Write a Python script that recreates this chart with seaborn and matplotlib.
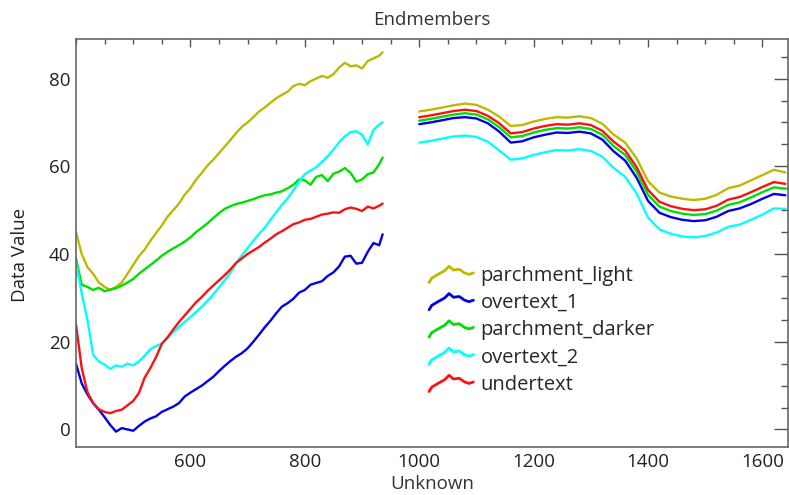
import numpy as np
import pandas as pd
import seaborn as sns
import matplotlib
matplotlib.use("Agg")
import matplotlib.pyplot as plt
from matplotlib.lines import Line2D
from matplotlib.legend_handler import HandlerBase
from matplotlib.ticker import MultipleLocator

# Endmember spectra
names = ['parchment_light', 'overtext_1', 'parchment_darker', 'overtext_2', 'undertext']
colors = ['#bfb800', '#0000ee', '#00e000', '#00ffff', '#ff1010']

# visible / NIR part (noisy), 400-936 nm
wl_vis = [400, 410, 420, 430, 440, 450, 460, 470, 480, 490, 500, 510, 520, 530, 540, 550,
          560, 570, 580, 590, 600, 610, 620, 630, 640, 650, 660, 670, 680, 690, 700, 710,
          720, 730, 740, 750, 760, 770, 780, 790, 800, 810, 820, 830, 840, 850, 860, 870,
          880, 890, 900, 910, 920, 930, 936]

light_vis = [45, 40, 37, 35.5, 33.5, 32.5, 31.8, 32.5, 33.5, 35.5, 37.5, 39.5, 41, 43, 44.8, 46.5,
             48.5, 50, 51.5, 53.5, 55, 57, 58.5, 60.2, 61.5, 63, 64.5, 66, 67.6, 69, 70, 71.2,
             72.5, 73.4, 74.5, 75.5, 76.3, 77, 78.3, 78.8, 78.5, 79.4, 80, 80.6, 80.2, 81, 82.5, 83.6,
             82.8, 83, 82.3, 84, 84.6, 85.2, 86]
over1_vis = [15, 10.5, 8, 6, 4.5, 2.8, 1, -0.5, 0.3, 0, -0.3, 0.8, 1.8, 2.5, 3, 4,
             4.6, 5.2, 6, 7.5, 8.4, 9.2, 10, 11, 12, 13.3, 14.5, 15.6, 16.6, 17.4, 18.5, 20,
             21.6, 23.3, 24.8, 26.5, 28, 28.8, 29.8, 31.2, 31.8, 33, 33.4, 33.8, 35, 35.8, 37.2, 39.4,
             39.6, 37.8, 38, 40.5, 42.5, 42, 44.5]
darker_vis = [39, 33, 32.5, 31.8, 32.3, 31.5, 31.9, 32.2, 32.8, 33.5, 34.3, 35.5, 36.5, 37.5, 38.5, 39.6,
              40.5, 41.3, 42, 42.8, 43.8, 45, 46, 47, 48.2, 49.3, 50.3, 50.9, 51.4, 51.7, 52.1, 52.5,
              53, 53.4, 53.6, 54, 54.3, 55, 55.8, 57, 56.8, 55.8, 57.6, 58, 56.6, 58.3, 58.8, 59.6,
              58.5, 56.5, 57, 58.2, 58.6, 60.5, 62]
over2_vis = [38, 31, 25, 17, 15.5, 14.8, 13.8, 14.6, 14.3, 15, 14.6, 15.5, 16.8, 18.3, 19, 19.6,
             20.8, 22.2, 23.4, 24.5, 25.6, 26.8, 28, 29.3, 30.8, 32.4, 34, 35.8, 37.8, 39.7, 41.4, 43,
             44.6, 46, 47.8, 49.5, 51.2, 52.7, 54.5, 56.5, 58.2, 59, 59.8, 61, 62.3, 63.8, 65.5, 66.8,
             67.8, 68, 67.2, 65, 68.3, 69.5, 70]
under_vis = [24, 14, 8.5, 6, 4.6, 4, 3.7, 4.2, 4.5, 5.5, 6.5, 8.3, 11.8, 14, 16.5, 19.5,
             21, 22.8, 24.5, 26, 27.5, 29, 30.2, 31.6, 32.8, 34, 35.2, 36.5, 38, 39, 40, 40.8,
             41.6, 42.6, 43.5, 44.5, 45.2, 46, 46.8, 47.2, 47.8, 48, 48.5, 49, 49.2, 49.5, 49.4, 50.2,
             50.6, 50.3, 49.8, 50.8, 50.4, 51, 51.5]

# SWIR part (smooth), 1000-1640 nm
wl_swir = [1000, 1020, 1040, 1060, 1080, 1100, 1120, 1140, 1160, 1180, 1200, 1220, 1240, 1260,
           1280, 1300, 1320, 1340, 1360, 1380, 1400, 1420, 1440, 1460, 1480, 1500, 1520, 1540,
           1560, 1580, 1600, 1620, 1640]

light_swir = [72.5, 72.9, 73.4, 73.9, 74.3, 74, 72.9, 71.3, 69.2, 69.4, 70.2, 70.8, 71.2, 71.1,
              71.4, 71, 69.7, 67.2, 65.4, 61.8, 56.6, 54, 53.1, 52.6, 52.3, 52.6, 53.5, 55,
              55.6, 56.8, 58, 59.2, 58.6]
over1_swir = [69.6, 70, 70.5, 71, 71.2, 70.9, 69.8, 67.9, 65.4, 65.7, 66.6, 67.2, 67.7, 67.6,
              67.9, 67.5, 66.1, 63.4, 61.3, 57.4, 52.1, 49.4, 48.4, 47.8, 47.5, 47.7, 48.5, 49.8,
              50.4, 51.4, 52.6, 53.7, 53.4]
darker_swir = [70.4, 70.8, 71.3, 71.8, 72.1, 71.8, 70.7, 68.9, 66.6, 66.9, 67.7, 68.3, 68.7, 68.6,
               68.9, 68.5, 67.2, 64.6, 62.6, 58.8, 53.5, 50.8, 49.8, 49.2, 48.9, 49.1, 49.9, 51.2,
               51.8, 52.9, 54.1, 55.2, 54.9]
over2_swir = [65.4, 65.8, 66.3, 66.8, 67, 66.7, 65.6, 63.6, 61.5, 61.8, 62.6, 63.2, 63.7, 63.6,
              63.9, 63.5, 62.2, 59.6, 57.6, 53.8, 48.3, 45.6, 44.6, 44, 43.8, 44.1, 44.9, 46.2,
              46.7, 47.8, 49, 50.4, 50.3]
under_swir = [71.2, 71.6, 72.1, 72.6, 72.9, 72.6, 71.5, 69.8, 67.5, 67.8, 68.6, 69.2, 69.6, 69.5,
              69.8, 69.4, 68.1, 65.6, 63.6, 59.8, 54.6, 51.9, 50.9, 50.3, 50, 50.2, 51, 52.4,
              53, 54.1, 55.3, 56.4, 56]

vis = [light_vis, over1_vis, darker_vis, over2_vis, under_vis]
swir = [light_swir, over1_swir, darker_swir, over2_swir, under_swir]

rows = []
for name, v, s in zip(names, vis, swir):
    for w, val in zip(wl_vis, v):
        rows.append((name, 'vis', w, val))
    for w, val in zip(wl_swir, s):
        rows.append((name, 'swir', w, val))
df = pd.DataFrame(rows, columns=['Endmember', 'Segment', 'Wavelength', 'Value'])


class WiggleHandler(HandlerBase):
    # little squiggle like the ENVI legend glyph
    def create_artists(self, legend, orig_handle, xdescent, ydescent, width, height, fontsize, trans):
        fx = np.array([0.0, 0.06, 0.2, 0.35, 0.45, 0.55, 0.68, 0.8, 0.9, 1.0])
        fy = np.array([-0.1, 0.2, 0.45, 0.7, 1.0, 0.75, 0.8, 0.55, 0.45, 0.55])
        line = Line2D(-xdescent + fx * width, -ydescent + fy * height,
                      color=orig_handle.get_color(), lw=orig_handle.get_linewidth())
        line.set_transform(trans)
        return [line]


sns.set_style('white')
plt.rcParams['font.family'] = ['Open Sans', 'DejaVu Sans']

fig = plt.figure(figsize=(7.89, 4.95), dpi=100)
ax = fig.add_axes([0.0963, 0.097, 0.9027, 0.824])

sns.lineplot(data=df, x='Wavelength', y='Value', hue='Endmember', units='Segment',
             estimator=None, hue_order=names, palette=colors, lw=1.7, legend=False, ax=ax)

ax.set_xlim(400, 1645)
ax.set_ylim(-4, 89)
ax.set_xticks([600, 800, 1000, 1200, 1400, 1600])
ax.xaxis.set_minor_locator(MultipleLocator(50))
ax.yaxis.set_major_locator(MultipleLocator(20))
ax.yaxis.set_minor_locator(MultipleLocator(5))
ax.tick_params(axis='x', which='major', direction='in', length=6, width=1, top=True,
               labelsize=13.5, colors='#555555', labelcolor='#222222', pad=4)
ax.tick_params(axis='x', which='minor', direction='in', length=3.5, width=1, top=True, colors='#555555')
ax.tick_params(axis='y', which='major', direction='in', length=10, width=1, right=True,
               labelsize=13.5, colors='#555555', labelcolor='#222222', pad=4)
ax.tick_params(axis='y', which='minor', direction='in', length=5, width=1, right=True, colors='#555555')
for sp in ax.spines.values():
    sp.set_color('#666666')
    sp.set_linewidth(1.2)

ax.set_title('Endmembers', fontsize=13.5, color='#333333', pad=10)
ax.set_xlabel('Unknown', fontsize=13.5, color='#333333', labelpad=3)
ax.set_ylabel('Data Value', fontsize=13.5, color='#222222')
ax.yaxis.set_label_coords(-0.066, 0.47)

handles = [Line2D([], [], color=c, lw=2) for c in colors]
ax.legend(handles, names, handler_map={Line2D: WiggleHandler()}, loc='upper left',
          bbox_to_anchor=(0.476, 0.479), frameon=False, fontsize=14.5, handlelength=2.2,
          handleheight=0.75, handletextpad=0.35, labelspacing=0.36, borderpad=0.2)

fig.savefig('out.png', dpi=100)
